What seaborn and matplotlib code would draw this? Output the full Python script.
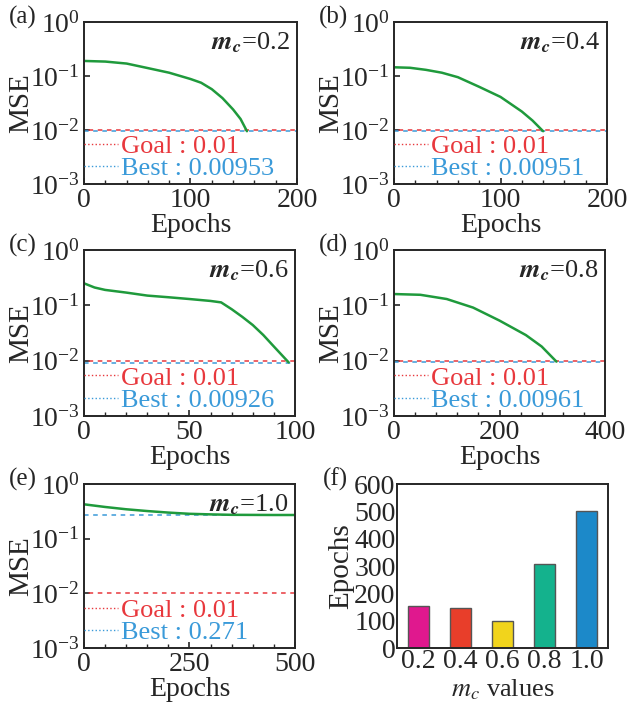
import numpy as np
import pandas as pd
import matplotlib
matplotlib.use("Agg")
import matplotlib.pyplot as plt
import seaborn as sns
from matplotlib.lines import Line2D
from matplotlib.ticker import MultipleLocator, LogLocator, NullLocator

# Curvas de MSE (epoch, mse) para cada m_c
ep_a = [0, 20, 40, 60, 80, 100, 110, 120, 130, 140, 147, 153]
mse_a = [0.19, 0.185, 0.17, 0.14, 0.115, 0.088, 0.075, 0.057, 0.039, 0.024, 0.016, 0.0095]

ep_b = [0, 15, 30, 45, 60, 80, 100, 120, 130, 140]
mse_b = [0.145, 0.142, 0.13, 0.115, 0.095, 0.063, 0.041, 0.022, 0.015, 0.0095]

ep_c = [0, 5, 10, 20, 30, 40, 50, 60, 65, 70, 75, 80, 85, 90, 97]
mse_c = [0.25, 0.21, 0.19, 0.17, 0.15, 0.14, 0.13, 0.12, 0.113, 0.085, 0.062, 0.044, 0.029, 0.018, 0.0093]

ep_d = [0, 50, 100, 150, 200, 250, 280, 308]
mse_d = [0.16, 0.155, 0.13, 0.091, 0.053, 0.029, 0.018, 0.0096]

ep_e = [0, 50, 100, 150, 200, 250, 300, 350, 400, 450, 500]
mse_e = [0.425, 0.38, 0.345, 0.32, 0.30, 0.285, 0.278, 0.273, 0.272, 0.271, 0.271]

goal = 0.01
best = [0.00953, 0.00951, 0.00926, 0.00961, 0.271]
best_txt = ["0.00953", "0.00951", "0.00926", "0.00961", "0.271"]
mc_txt = ["0.2", "0.4", "0.6", "0.8", "1.0"]
xmax = [200, 200, 100, 400, 500]
xstep = [100, 100, 50, 200, 250]
xminor = [20, 20, 10, 40, 50]
letras = ["(a)", "(b)", "(c)", "(d)", "(e)", "(f)"]

# Barras (f)
mc_vals = ["0.2", "0.4", "0.6", "0.8", "1.0"]
epochs_vals = [155, 145, 98, 309, 500]
bar_cores = ["#e0188e", "#e83e2a", "#f1d41c", "#14b28d", "#1c89c9"]

sns.set_style("ticks")
plt.rcParams['font.family'] = ['Liberation Serif', 'DejaVu Serif']
plt.rcParams['mathtext.fontset'] = 'stix'
plt.rcParams['axes.linewidth'] = 1.4
plt.rcParams['xtick.direction'] = 'in'
plt.rcParams['ytick.direction'] = 'in'

W, H = 628, 709
fig = plt.figure(figsize=(W / 100, H / 100), dpi=100)

def caixa(l, t, r, b):
    return fig.add_axes([l / W, 1 - b / H, (r - l) / W, (b - t) / H])

posicoes = [
    (84, 22, 297, 184), (394, 22, 607, 184),
    (84, 250, 295, 416), (394, 250, 605, 416),
    (84, 484, 295, 648), (397, 484, 608, 648),
]

curvas = [(ep_a, mse_a), (ep_b, mse_b), (ep_c, mse_c), (ep_d, mse_d), (ep_e, mse_e)]
vermelho = "#e8383d"
azul = "#3a9ad9"
verde = "#1f9a3c"

for i, (ep, mse) in enumerate(curvas):
    ax = caixa(*posicoes[i])
    df = pd.DataFrame({'Epochs': ep, 'MSE': mse})
    ax.axhline(best[i], color=azul, ls=(0, (3, 3)), lw=1.1)
    ax.axhline(goal, color=vermelho, ls=(3, (3, 3)), lw=1.1)
    sns.lineplot(data=df, x='Epochs', y='MSE', ax=ax, color=verde, lw=1.8)
    ax.set_yscale('log')
    ax.set_ylim(1e-3, 1)
    ax.set_xlim(0, xmax[i])
    ax.xaxis.set_major_locator(MultipleLocator(xstep[i]))
    ax.xaxis.set_minor_locator(MultipleLocator(xminor[i]))
    ax.yaxis.set_major_locator(LogLocator(base=10, numticks=10))
    ax.yaxis.set_minor_locator(NullLocator())
    ax.tick_params(axis='both', which='major', labelsize=20, length=4, width=1.2)
    ax.tick_params(axis='x', which='major', pad=3)
    ax.tick_params(axis='y', which='major', pad=3)
    ax.tick_params(axis='x', which='minor', length=3, width=1.0)
    ax.set_xlabel('Epochs', fontsize=20, labelpad=0)
    ax.set_ylabel('MSE', fontsize=21, labelpad=-3)
    ax.text(0.97, 0.95, r'$\boldsymbol{m}_{\boldsymbol{c}}$' + '=' + mc_txt[i],
            transform=ax.transAxes, ha='right', va='top', fontsize=19)
    ax.text(-0.355, 1.03, letras[i], transform=ax.transAxes, ha='left', va='center', fontsize=18)
    handles = [Line2D([], [], color=vermelho, ls=':', lw=1.0),
               Line2D([], [], color=azul, ls=':', lw=1.0)]
    ax.legend(handles, ['Goal : 0.01', 'Best : ' + best_txt[i]], loc='lower left',
              bbox_to_anchor=(0.0, 0.025), frameon=False, fontsize=19,
              handlelength=1.3, handletextpad=0.1, labelspacing=-0.05,
              labelcolor=[vermelho, azul], borderaxespad=0.0, borderpad=0.0)

# Painel (f): barras
ax = caixa(*posicoes[5])
dfb = pd.DataFrame({'mc': mc_vals, 'Epochs': epochs_vals})
sns.barplot(data=dfb, x='mc', y='Epochs', hue='mc', palette=bar_cores, ax=ax,
            width=0.5, edgecolor='#555555', linewidth=1.0, legend=False, saturation=1)
ax.set_ylim(0, 600)
ax.yaxis.set_major_locator(MultipleLocator(100))
ax.tick_params(axis='both', which='major', labelsize=20, length=0, pad=1)
ax.set_xlabel(r'$m_c$ values', fontsize=19, labelpad=2)
ax.set_ylabel('Epochs', fontsize=21, labelpad=0)
ax.text(-0.35, 1.03, letras[5], transform=ax.transAxes, ha='left', va='center', fontsize=18)

fig.savefig('out.png', dpi=100)
